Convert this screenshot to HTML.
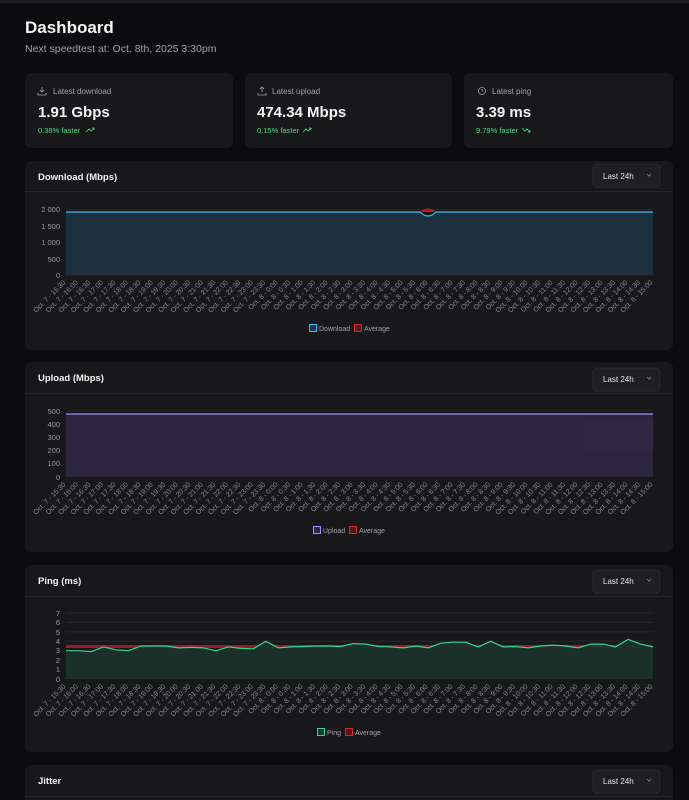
<!DOCTYPE html>
<html><head><meta charset="utf-8"><style>
html,body{margin:0;padding:0;background:#0c0c0e;}
svg{display:block;font-family:"Liberation Sans",sans-serif;}
.lb text{font-size:7px;fill:#8a8a90;text-anchor:end;}
.ax{font-size:7.5px;fill:#9a9aa0;text-anchor:end;}
.gr{stroke:#26262b;stroke-width:1;}
</style></head><body>
<svg width="689" height="800" viewBox="0 0 689 800">
<rect x="0" y="0" width="689" height="800" fill="#0c0c0e"/>
<rect x="0" y="0" width="689" height="3" fill="#1f1f23"/>
<text x="25" y="33" font-size="17" font-weight="bold" fill="#f4f4f5">Dashboard</text>
<text x="25" y="52" font-size="10.5" fill="#a1a1aa">Next speedtest at: Oct. 8th, 2025 3:30pm</text>

<rect x="25" y="73" width="208" height="75" rx="6" fill="#18181b"/>
<rect x="245" y="73" width="207" height="75" rx="6" fill="#18181b"/>
<rect x="464" y="73" width="209" height="75" rx="6" fill="#18181b"/>
<g font-size="8" fill="#a1a1aa">
<text x="53" y="94">Latest download</text>
<text x="272" y="94">Latest upload</text>
<text x="492" y="94">Latest ping</text>
</g>
<g stroke="#a1a1aa" fill="none" stroke-width="0.8">
<path d="M42 87v5M40 90l2 2 2-2M38 93v2h8v-2"/>
<path d="M262 92v-5M260 89l2-2 2 2M258 93v2h8v-2"/>
<circle cx="482" cy="91" r="3.5"/><path d="M482 89v2h1.5"/>
</g>
<g font-size="15" font-weight="bold" fill="#f4f4f5">
<text x="38" y="117">1.91 Gbps</text>
<text x="257" y="117">474.34 Mbps</text>
<text x="476" y="117">3.39 ms</text>
</g>
<g font-size="7.5" fill="#4ade80">
<text x="38" y="133">0.38% faster</text>
<text x="257" y="133">0.15% faster</text>
<text x="476" y="133">9.79% faster</text>
</g>
<g stroke="#4ade80" fill="none" stroke-width="0.8">
<path d="M86 132l3-3 2 2 3-3M92 128h2v2"/>
<path d="M303 132l3-3 2 2 3-3M309 128h2v2"/>
<path d="M522 128l3 3 2-2 3 3M528 132h2v-2"/>
</g>

<rect x="25" y="161" width="648" height="189" rx="6" fill="#18181b"/>
<rect x="25" y="362" width="648" height="190" rx="6" fill="#18181b"/>
<rect x="25" y="565" width="648" height="187" rx="6" fill="#18181b"/>
<rect x="25" y="765" width="648" height="60" rx="6" fill="#18181b"/>
<g fill="#27272a"><rect x="25" y="191" width="648" height="1"/><rect x="25" y="393" width="648" height="1"/><rect x="25" y="596" width="648" height="1"/><rect x="25" y="796" width="648" height="1"/></g>
<g font-size="9.5" font-weight="bold" fill="#f4f4f5">
<text x="38" y="180">Download (Mbps)</text>
<text x="38" y="381">Upload (Mbps)</text>
<text x="38" y="584">Ping (ms)</text>
<text x="38" y="784">Jitter</text>
</g>
<g fill="#1f1f23" stroke="#2e2e33" stroke-width="0.8">
<rect x="593" y="164" width="67" height="23" rx="4"/>
<rect x="593" y="368" width="67" height="23" rx="4"/>
<rect x="593" y="570" width="67" height="23" rx="4"/>
<rect x="593" y="770" width="67" height="23" rx="4"/>
</g>
<g font-size="8" fill="#e4e4e7">
<text x="603" y="179">Last 24h</text><text x="603" y="382">Last 24h</text><text x="603" y="584">Last 24h</text><text x="603" y="784">Last 24h</text>
</g>
<g stroke="#8a8a90" fill="none" stroke-width="0.8">
<path d="M647 174l2 2 2-2"/><path d="M647 377l2 2 2-2"/><path d="M647 579l2 2 2-2"/><path d="M647 779l2 2 2-2"/>
</g>

<g class="gr"><line x1="66" x2="653" y1="209.5" y2="209.5"/><line x1="66" x2="653" y1="226" y2="226"/><line x1="66" x2="653" y1="242.5" y2="242.5"/><line x1="66" x2="653" y1="259" y2="259"/></g>
<path d="M66 212 L420 212 Q428 220 436 212 L653 212 L653 275 L66 275Z" fill="#1b2f3c"/>
<path d="M420 212 Q428 205 436 212Z" fill="#b91c1c"/>
<path d="M66 212 L420 212 Q428 220 436 212 L653 212" stroke="#38bdf8" stroke-width="1.2" fill="none"/>
<line x1="66" x2="653" y1="275" y2="275" stroke="#2a2a2e"/>
<g class="ax"><text x="60" y="212">2 000</text><text x="60" y="229">1 500</text><text x="60" y="245">1 000</text><text x="60" y="262">500</text><text x="60" y="278">0</text></g>

<g class="gr"><line x1="66" x2="653" y1="411" y2="411"/><line x1="66" x2="653" y1="424" y2="424"/><line x1="66" x2="653" y1="437" y2="437"/><line x1="66" x2="653" y1="450" y2="450"/><line x1="66" x2="653" y1="463" y2="463"/></g>
<rect x="66" y="414" width="587" height="63" fill="#2b2540"/>
<line x1="66" x2="653" y1="414" y2="414" stroke="#a78bfa" stroke-width="1.2"/>
<rect x="584" y="420" width="70" height="30" fill="#3a3350" opacity="0.2"/>
<g class="ax"><text x="60" y="414">500</text><text x="60" y="427">400</text><text x="60" y="440">300</text><text x="60" y="453">200</text><text x="60" y="466">100</text><text x="60" y="480">0</text></g>

<g class="gr"><line x1="66" x2="653" y1="613" y2="613"/><line x1="66" x2="653" y1="622.4" y2="622.4"/><line x1="66" x2="653" y1="631.9" y2="631.9"/><line x1="66" x2="653" y1="641.3" y2="641.3"/><line x1="66" x2="653" y1="650.7" y2="650.7"/><line x1="66" x2="653" y1="660.1" y2="660.1"/><line x1="66" x2="653" y1="669.6" y2="669.6"/></g>
<rect x="66" y="645" width="587" height="3" fill="#991b1b"/>
<path d="M66 650.7 L78.5 650.7 L91 651.7 L103.5 646.9 L116 649.8 L128.5 650.7 L141 646 L153.4 646 L165.9 646 L178.4 647.9 L190.9 647.4 L203.4 647.9 L215.9 650.7 L228.4 646.9 L240.9 648.4 L253.4 648.8 L265.8 641.3 L278.3 647.9 L290.8 646.9 L303.3 646.5 L315.8 646 L328.3 646 L340.8 646.5 L353.3 643.6 L365.8 644.1 L378.3 646.5 L390.7 646.9 L403.2 647.9 L415.7 646 L428.2 647.9 L440.7 643.2 L453.2 642.2 L465.7 642.2 L478.2 646.9 L490.7 641.3 L503.2 646.9 L515.6 646.5 L528.1 647.9 L540.6 646 L553.1 645.1 L565.6 646 L578.1 647.9 L590.6 644.1 L603.1 644.1 L615.6 646.9 L628.1 639.4 L640.5 644.1 L653 646.9 L653 679 L66 679Z" fill="#1a3129" opacity="0.95"/>
<polyline points="66,650.7 78.5,650.7 91,651.7 103.5,646.9 116,649.8 128.5,650.7 141,646 153.4,646 165.9,646 178.4,647.9 190.9,647.4 203.4,647.9 215.9,650.7 228.4,646.9 240.9,648.4 253.4,648.8 265.8,641.3 278.3,647.9 290.8,646.9 303.3,646.5 315.8,646 328.3,646 340.8,646.5 353.3,643.6 365.8,644.1 378.3,646.5 390.7,646.9 403.2,647.9 415.7,646 428.2,647.9 440.7,643.2 453.2,642.2 465.7,642.2 478.2,646.9 490.7,641.3 503.2,646.9 515.6,646.5 528.1,647.9 540.6,646 553.1,645.1 565.6,646 578.1,647.9 590.6,644.1 603.1,644.1 615.6,646.9 628.1,639.4 640.5,644.1 653,646.9" fill="none" stroke="#34d399" stroke-width="1.2" stroke-linejoin="round"/>
<g class="ax"><text x="60" y="616">7</text><text x="60" y="625">6</text><text x="60" y="635">5</text><text x="60" y="644">4</text><text x="60" y="653">3</text><text x="60" y="663">2</text><text x="60" y="672">1</text><text x="60" y="682">0</text></g>

<g font-size="7" fill="#a1a1aa">
<rect x="309.5" y="324.5" width="7" height="7" fill="#16384a" stroke="#38bdf8"/><text x="319" y="331">Download</text>
<rect x="354.5" y="324.5" width="7" height="7" fill="#5a1414" stroke="#dc2626"/><text x="364" y="331">Average</text>
<rect x="313.5" y="526.5" width="7" height="7" fill="#2e2750" stroke="#a78bfa"/><text x="323" y="533">Upload</text>
<rect x="349.5" y="526.5" width="7" height="7" fill="#5a1414" stroke="#dc2626"/><text x="359" y="533">Average</text>
<rect x="317.5" y="728.5" width="7" height="7" fill="#153a2e" stroke="#34d399"/><text x="327" y="735">Ping</text>
<rect x="345.5" y="728.5" width="7" height="7" fill="#5a1414" stroke="#dc2626"/><text x="355" y="735">Average</text>
</g>

<g class="lb" transform="translate(0,283)">
<text transform="translate(66)rotate(-45)">Oct. 7 - 15:30</text><text transform="translate(78.5)rotate(-45)">Oct. 7 - 16:00</text><text transform="translate(91)rotate(-45)">Oct. 7 - 16:30</text><text transform="translate(103.5)rotate(-45)">Oct. 7 - 17:00</text><text transform="translate(116)rotate(-45)">Oct. 7 - 17:30</text><text transform="translate(128.5)rotate(-45)">Oct. 7 - 18:00</text><text transform="translate(141)rotate(-45)">Oct. 7 - 18:30</text><text transform="translate(153.4)rotate(-45)">Oct. 7 - 19:00</text><text transform="translate(165.9)rotate(-45)">Oct. 7 - 19:30</text><text transform="translate(178.4)rotate(-45)">Oct. 7 - 20:00</text><text transform="translate(190.9)rotate(-45)">Oct. 7 - 20:30</text><text transform="translate(203.4)rotate(-45)">Oct. 7 - 21:00</text><text transform="translate(215.9)rotate(-45)">Oct. 7 - 21:30</text><text transform="translate(228.4)rotate(-45)">Oct. 7 - 22:00</text><text transform="translate(240.9)rotate(-45)">Oct. 7 - 22:30</text><text transform="translate(253.4)rotate(-45)">Oct. 7 - 23:00</text><text transform="translate(265.8)rotate(-45)">Oct. 7 - 23:30</text><text transform="translate(278.3)rotate(-45)">Oct. 8 - 0:00</text><text transform="translate(290.8)rotate(-45)">Oct. 8 - 0:30</text><text transform="translate(303.3)rotate(-45)">Oct. 8 - 1:00</text><text transform="translate(315.8)rotate(-45)">Oct. 8 - 1:30</text><text transform="translate(328.3)rotate(-45)">Oct. 8 - 2:00</text><text transform="translate(340.8)rotate(-45)">Oct. 8 - 2:30</text><text transform="translate(353.3)rotate(-45)">Oct. 8 - 3:00</text><text transform="translate(365.8)rotate(-45)">Oct. 8 - 3:30</text><text transform="translate(378.3)rotate(-45)">Oct. 8 - 4:00</text><text transform="translate(390.7)rotate(-45)">Oct. 8 - 4:30</text><text transform="translate(403.2)rotate(-45)">Oct. 8 - 5:00</text><text transform="translate(415.7)rotate(-45)">Oct. 8 - 5:30</text><text transform="translate(428.2)rotate(-45)">Oct. 8 - 6:00</text><text transform="translate(440.7)rotate(-45)">Oct. 8 - 6:30</text><text transform="translate(453.2)rotate(-45)">Oct. 8 - 7:00</text><text transform="translate(465.7)rotate(-45)">Oct. 8 - 7:30</text><text transform="translate(478.2)rotate(-45)">Oct. 8 - 8:00</text><text transform="translate(490.7)rotate(-45)">Oct. 8 - 8:30</text><text transform="translate(503.2)rotate(-45)">Oct. 8 - 9:00</text><text transform="translate(515.6)rotate(-45)">Oct. 8 - 9:30</text><text transform="translate(528.1)rotate(-45)">Oct. 8 - 10:00</text><text transform="translate(540.6)rotate(-45)">Oct. 8 - 10:30</text><text transform="translate(553.1)rotate(-45)">Oct. 8 - 11:00</text><text transform="translate(565.6)rotate(-45)">Oct. 8 - 11:30</text><text transform="translate(578.1)rotate(-45)">Oct. 8 - 12:00</text><text transform="translate(590.6)rotate(-45)">Oct. 8 - 12:30</text><text transform="translate(603.1)rotate(-45)">Oct. 8 - 13:00</text><text transform="translate(615.6)rotate(-45)">Oct. 8 - 13:30</text><text transform="translate(628.1)rotate(-45)">Oct. 8 - 14:00</text><text transform="translate(640.5)rotate(-45)">Oct. 8 - 14:30</text><text transform="translate(653)rotate(-45)">Oct. 8 - 15:00</text>
</g>
<g class="lb" transform="translate(0,485)">
<text transform="translate(66)rotate(-45)">Oct. 7 - 15:30</text><text transform="translate(78.5)rotate(-45)">Oct. 7 - 16:00</text><text transform="translate(91)rotate(-45)">Oct. 7 - 16:30</text><text transform="translate(103.5)rotate(-45)">Oct. 7 - 17:00</text><text transform="translate(116)rotate(-45)">Oct. 7 - 17:30</text><text transform="translate(128.5)rotate(-45)">Oct. 7 - 18:00</text><text transform="translate(141)rotate(-45)">Oct. 7 - 18:30</text><text transform="translate(153.4)rotate(-45)">Oct. 7 - 19:00</text><text transform="translate(165.9)rotate(-45)">Oct. 7 - 19:30</text><text transform="translate(178.4)rotate(-45)">Oct. 7 - 20:00</text><text transform="translate(190.9)rotate(-45)">Oct. 7 - 20:30</text><text transform="translate(203.4)rotate(-45)">Oct. 7 - 21:00</text><text transform="translate(215.9)rotate(-45)">Oct. 7 - 21:30</text><text transform="translate(228.4)rotate(-45)">Oct. 7 - 22:00</text><text transform="translate(240.9)rotate(-45)">Oct. 7 - 22:30</text><text transform="translate(253.4)rotate(-45)">Oct. 7 - 23:00</text><text transform="translate(265.8)rotate(-45)">Oct. 7 - 23:30</text><text transform="translate(278.3)rotate(-45)">Oct. 8 - 0:00</text><text transform="translate(290.8)rotate(-45)">Oct. 8 - 0:30</text><text transform="translate(303.3)rotate(-45)">Oct. 8 - 1:00</text><text transform="translate(315.8)rotate(-45)">Oct. 8 - 1:30</text><text transform="translate(328.3)rotate(-45)">Oct. 8 - 2:00</text><text transform="translate(340.8)rotate(-45)">Oct. 8 - 2:30</text><text transform="translate(353.3)rotate(-45)">Oct. 8 - 3:00</text><text transform="translate(365.8)rotate(-45)">Oct. 8 - 3:30</text><text transform="translate(378.3)rotate(-45)">Oct. 8 - 4:00</text><text transform="translate(390.7)rotate(-45)">Oct. 8 - 4:30</text><text transform="translate(403.2)rotate(-45)">Oct. 8 - 5:00</text><text transform="translate(415.7)rotate(-45)">Oct. 8 - 5:30</text><text transform="translate(428.2)rotate(-45)">Oct. 8 - 6:00</text><text transform="translate(440.7)rotate(-45)">Oct. 8 - 6:30</text><text transform="translate(453.2)rotate(-45)">Oct. 8 - 7:00</text><text transform="translate(465.7)rotate(-45)">Oct. 8 - 7:30</text><text transform="translate(478.2)rotate(-45)">Oct. 8 - 8:00</text><text transform="translate(490.7)rotate(-45)">Oct. 8 - 8:30</text><text transform="translate(503.2)rotate(-45)">Oct. 8 - 9:00</text><text transform="translate(515.6)rotate(-45)">Oct. 8 - 9:30</text><text transform="translate(528.1)rotate(-45)">Oct. 8 - 10:00</text><text transform="translate(540.6)rotate(-45)">Oct. 8 - 10:30</text><text transform="translate(553.1)rotate(-45)">Oct. 8 - 11:00</text><text transform="translate(565.6)rotate(-45)">Oct. 8 - 11:30</text><text transform="translate(578.1)rotate(-45)">Oct. 8 - 12:00</text><text transform="translate(590.6)rotate(-45)">Oct. 8 - 12:30</text><text transform="translate(603.1)rotate(-45)">Oct. 8 - 13:00</text><text transform="translate(615.6)rotate(-45)">Oct. 8 - 13:30</text><text transform="translate(628.1)rotate(-45)">Oct. 8 - 14:00</text><text transform="translate(640.5)rotate(-45)">Oct. 8 - 14:30</text><text transform="translate(653)rotate(-45)">Oct. 8 - 15:00</text>
</g>
<g class="lb" transform="translate(0,687)">
<text transform="translate(66)rotate(-45)">Oct. 7 - 15:30</text><text transform="translate(78.5)rotate(-45)">Oct. 7 - 16:00</text><text transform="translate(91)rotate(-45)">Oct. 7 - 16:30</text><text transform="translate(103.5)rotate(-45)">Oct. 7 - 17:00</text><text transform="translate(116)rotate(-45)">Oct. 7 - 17:30</text><text transform="translate(128.5)rotate(-45)">Oct. 7 - 18:00</text><text transform="translate(141)rotate(-45)">Oct. 7 - 18:30</text><text transform="translate(153.4)rotate(-45)">Oct. 7 - 19:00</text><text transform="translate(165.9)rotate(-45)">Oct. 7 - 19:30</text><text transform="translate(178.4)rotate(-45)">Oct. 7 - 20:00</text><text transform="translate(190.9)rotate(-45)">Oct. 7 - 20:30</text><text transform="translate(203.4)rotate(-45)">Oct. 7 - 21:00</text><text transform="translate(215.9)rotate(-45)">Oct. 7 - 21:30</text><text transform="translate(228.4)rotate(-45)">Oct. 7 - 22:00</text><text transform="translate(240.9)rotate(-45)">Oct. 7 - 22:30</text><text transform="translate(253.4)rotate(-45)">Oct. 7 - 23:00</text><text transform="translate(265.8)rotate(-45)">Oct. 7 - 23:30</text><text transform="translate(278.3)rotate(-45)">Oct. 8 - 0:00</text><text transform="translate(290.8)rotate(-45)">Oct. 8 - 0:30</text><text transform="translate(303.3)rotate(-45)">Oct. 8 - 1:00</text><text transform="translate(315.8)rotate(-45)">Oct. 8 - 1:30</text><text transform="translate(328.3)rotate(-45)">Oct. 8 - 2:00</text><text transform="translate(340.8)rotate(-45)">Oct. 8 - 2:30</text><text transform="translate(353.3)rotate(-45)">Oct. 8 - 3:00</text><text transform="translate(365.8)rotate(-45)">Oct. 8 - 3:30</text><text transform="translate(378.3)rotate(-45)">Oct. 8 - 4:00</text><text transform="translate(390.7)rotate(-45)">Oct. 8 - 4:30</text><text transform="translate(403.2)rotate(-45)">Oct. 8 - 5:00</text><text transform="translate(415.7)rotate(-45)">Oct. 8 - 5:30</text><text transform="translate(428.2)rotate(-45)">Oct. 8 - 6:00</text><text transform="translate(440.7)rotate(-45)">Oct. 8 - 6:30</text><text transform="translate(453.2)rotate(-45)">Oct. 8 - 7:00</text><text transform="translate(465.7)rotate(-45)">Oct. 8 - 7:30</text><text transform="translate(478.2)rotate(-45)">Oct. 8 - 8:00</text><text transform="translate(490.7)rotate(-45)">Oct. 8 - 8:30</text><text transform="translate(503.2)rotate(-45)">Oct. 8 - 9:00</text><text transform="translate(515.6)rotate(-45)">Oct. 8 - 9:30</text><text transform="translate(528.1)rotate(-45)">Oct. 8 - 10:00</text><text transform="translate(540.6)rotate(-45)">Oct. 8 - 10:30</text><text transform="translate(553.1)rotate(-45)">Oct. 8 - 11:00</text><text transform="translate(565.6)rotate(-45)">Oct. 8 - 11:30</text><text transform="translate(578.1)rotate(-45)">Oct. 8 - 12:00</text><text transform="translate(590.6)rotate(-45)">Oct. 8 - 12:30</text><text transform="translate(603.1)rotate(-45)">Oct. 8 - 13:00</text><text transform="translate(615.6)rotate(-45)">Oct. 8 - 13:30</text><text transform="translate(628.1)rotate(-45)">Oct. 8 - 14:00</text><text transform="translate(640.5)rotate(-45)">Oct. 8 - 14:30</text><text transform="translate(653)rotate(-45)">Oct. 8 - 15:00</text>
</g>
</svg>
</body></html>
